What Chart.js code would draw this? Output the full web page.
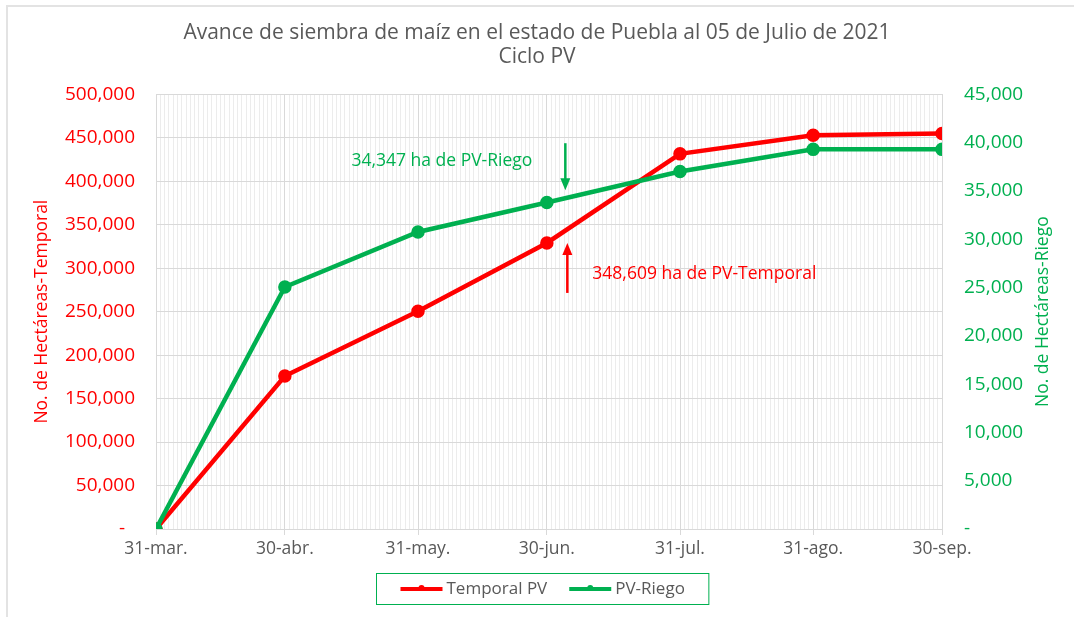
<!DOCTYPE html>
<html>
<head>
<meta charset="utf-8">
<script src="https://cdn.jsdelivr.net/npm/chart.js@4.4.0/dist/chart.umd.min.js"></script>
<style>
  html, body { margin: 0; padding: 0; background: #fff; overflow: hidden; }
  #marco { position: absolute; left: 6px; top: 5px; width: 1200px; height: 800px;
           border-left: 2px solid #e3e3e3; border-top: 2px solid #e3e3e3; }
  #grafica { position: absolute; left: 0; top: 0; }
</style>
</head>
<body>
<div id="marco"></div>
<canvas id="grafica" width="1074" height="617"></canvas>
<script>
// datos
const fechas = ['2021-03-31', '2021-04-30', '2021-05-31', '2021-06-30', '2021-07-31', '2021-08-31', '2021-09-30'];
const etiquetas = ['31-mar.', '30-abr.', '31-may.', '30-jun.', '31-jul.', '31-ago.', '30-sep.'];
const temporalPV = [0, 176000, 250500, 329000, 431500, 453000, 455000];
const pvRiego = [0, 25050, 30750, 33800, 37000, 39300, 39300];

// anotaciones al 05 de julio
const fechaCorte = '2021-07-05';
const riegoCorte = 34347;
const temporalCorte = 348609;

const titulo = ['Avance de siembra de maíz en el estado de Puebla al 05 de Julio de 2021', 'Ciclo PV'];

const ROJO = '#ff0000';
const VERDE = '#00b050';
const GRIS = '#595959';
const FUENTE = "'Open Sans', sans-serif";

const DIA = 86400000;
const inicio = Date.parse(fechas[0]);
const aDia = (f) => Math.round((Date.parse(f) - inicio) / DIA);
const dias = fechas.map(aDia);
const totalDias = dias[dias.length - 1];

const formato = (v) => v.toLocaleString('en-US');

// ejes, anotaciones y leyenda dibujados a mano
const extras = {
  id: 'extras',
  afterDraw(chart) {
    const { ctx, chartArea, scales } = chart;
    const cy = (chartArea.top + chartArea.bottom) / 2;
    ctx.save();

    // titulos de ejes
    ctx.font = '17.5px ' + FUENTE;
    ctx.textAlign = 'center';
    ctx.textBaseline = 'middle';
    ctx.fillStyle = ROJO;
    ctx.translate(42, cy);
    ctx.rotate(-Math.PI / 2);
    ctx.fillText('No. de Hectáreas-Temporal', 0, 0);
    ctx.setTransform(1, 0, 0, 1, 0, 0);
    ctx.fillStyle = VERDE;
    ctx.translate(1043, cy);
    ctx.rotate(-Math.PI / 2);
    ctx.fillText('No. de Hectáreas-Riego', 0, 0);
    ctx.setTransform(1, 0, 0, 1, 0, 0);

    // flechas
    const ax = scales.x.getPixelForValue(aDia(fechaCorte)) - 3;
    const flecha = (x, y0, y1, color) => {
      const dir = y1 > y0 ? 1 : -1;
      ctx.strokeStyle = color;
      ctx.fillStyle = color;
      ctx.lineWidth = 2.5;
      ctx.beginPath();
      ctx.moveTo(x, y0);
      ctx.lineTo(x, y1 - dir * 10);
      ctx.stroke();
      ctx.beginPath();
      ctx.moveTo(x, y1);
      ctx.lineTo(x - 5, y1 - dir * 12);
      ctx.lineTo(x + 5, y1 - dir * 12);
      ctx.closePath();
      ctx.fill();
    };
    const gTip = scales.y1.getPixelForValue(riegoCorte) - 7;
    flecha(ax, gTip - 47, gTip, VERDE);
    const rTip = scales.y.getPixelForValue(temporalCorte) + 17;
    flecha(ax + 2, rTip + 50, rTip, ROJO);

    ctx.font = '17.5px ' + FUENTE;
    ctx.textBaseline = 'middle';
    ctx.fillStyle = VERDE;
    ctx.textAlign = 'right';
    ctx.fillText(formato(riegoCorte) + ' ha de PV-Riego', ax - 33, gTip - 29);
    ctx.fillStyle = ROJO;
    ctx.textAlign = 'left';
    ctx.fillText(formato(temporalCorte) + ' ha de PV-Temporal', ax + 27, rTip + 31);

    // leyenda con recuadro
    const items = [chart.data.datasets[0], chart.data.datasets[1]];
    ctx.font = '17px ' + FUENTE;
    const linea = 42, hueco = 4, sep = 22, pad = 24;
    const anchos = items.map(d => linea + hueco + ctx.measureText(d.label).width);
    const ancho = anchos.reduce((a, b) => a + b, 0) + sep + pad * 2;
    const cx = (chartArea.left + chartArea.right) / 2 - 7;
    const bx = Math.round(cx - ancho / 2) + 0.5, by = 573.5, bh = 31;
    ctx.strokeStyle = VERDE;
    ctx.lineWidth = 1;
    ctx.strokeRect(bx, by, ancho, bh);
    let x = bx + pad;
    const ly = by + bh / 2;
    items.forEach((d, i) => {
      ctx.strokeStyle = d.borderColor;
      ctx.lineWidth = 4;
      ctx.beginPath();
      ctx.moveTo(x, ly);
      ctx.lineTo(x + linea, ly);
      ctx.stroke();
      ctx.fillStyle = d.borderColor;
      ctx.beginPath();
      ctx.arc(x + linea / 2, ly - 1, 3, 0, Math.PI * 2);
      ctx.fill();
      ctx.fillStyle = GRIS;
      ctx.textAlign = 'left';
      ctx.fillText(d.label, x + linea + hueco, ly);
      x += anchos[i] + sep;
    });
    ctx.restore();
  }
};

new Chart(document.getElementById('grafica'), {
  type: 'line',
  data: {
    datasets: [
      {
        label: 'Temporal PV',
        data: dias.map((d, i) => ({ x: d, y: temporalPV[i] })),
        yAxisID: 'y',
        borderColor: ROJO,
        backgroundColor: ROJO,
        borderWidth: 4.5,
        pointRadius: 4.5,
        pointHoverRadius: 4.5,
        tension: 0,
        order: 2,
      },
      {
        label: 'PV-Riego',
        data: dias.map((d, i) => ({ x: d, y: pvRiego[i] })),
        yAxisID: 'y1',
        borderColor: VERDE,
        backgroundColor: VERDE,
        borderWidth: 4.5,
        pointRadius: 4.5,
        pointHoverRadius: 4.5,
        tension: 0,
        order: 1,
      },
    ],
  },
  options: {
    responsive: false,
    animation: false,
    devicePixelRatio: 1,
    layout: { padding: { left: 0, right: 0, top: 0, bottom: 52 } },
    plugins: {
      legend: { display: false },
      tooltip: { enabled: false },
      title: {
        display: true,
        text: titulo,
        color: GRIS,
        font: { family: FUENTE, size: 21, weight: 'normal', lineHeight: 1.15 },
        padding: { top: 21, bottom: 25 },
      },
    },
    scales: {
      xMenor: {
        type: 'linear',
        position: 'bottom',
        min: 0,
        max: totalDias,
        z: -1,
        afterBuildTicks: (s) => { s.ticks = Array.from({ length: totalDias + 1 }, (_, i) => ({ value: i })); },
        afterFit: (s) => { s.height = 0; },
        ticks: { display: false },
        grid: { color: '#ececec', lineWidth: 1, drawTicks: false },
        border: { display: false },
      },
      x: {
        type: 'linear',
        position: 'bottom',
        min: 0,
        max: totalDias,
        afterBuildTicks: (s) => { s.ticks = dias.map(v => ({ value: v })); },
        afterFit: (s) => { s.height = 36; },
        ticks: {
          color: GRIS,
          font: { family: FUENTE, size: 17.5 },
          padding: 4,
          maxRotation: 0,
          autoSkip: false,
          callback: (v) => etiquetas[dias.indexOf(v)],
        },
        grid: { color: '#d9d9d9', lineWidth: 1, tickLength: 6 },
        border: { color: '#d9d9d9' },
      },
      y: {
        position: 'left',
        min: 0,
        max: 500000,
        afterFit: (s) => { s.width = 156; },
        ticks: {
          stepSize: 50000,
          color: ROJO,
          font: { family: FUENTE, size: 19 },
          padding: 21,
          callback: (v) => v === 0 ? '-  ' : formato(v),
        },
        grid: { color: '#d9d9d9', lineWidth: 1, drawTicks: false },
        border: { color: '#d9d9d9' },
      },
      y1: {
        position: 'right',
        min: 0,
        max: 45000,
        afterFit: (s) => { s.width = 132; },
        ticks: {
          stepSize: 5000,
          color: VERDE,
          font: { family: FUENTE, size: 19 },
          padding: 22,
          callback: (v) => v === 0 ? '-' : formato(v),
        },
        grid: { drawOnChartArea: false, drawTicks: false },
        border: { color: '#d9d9d9' },
      },
    },
  },
  plugins: [extras],
});
</script>
</body>
</html>
